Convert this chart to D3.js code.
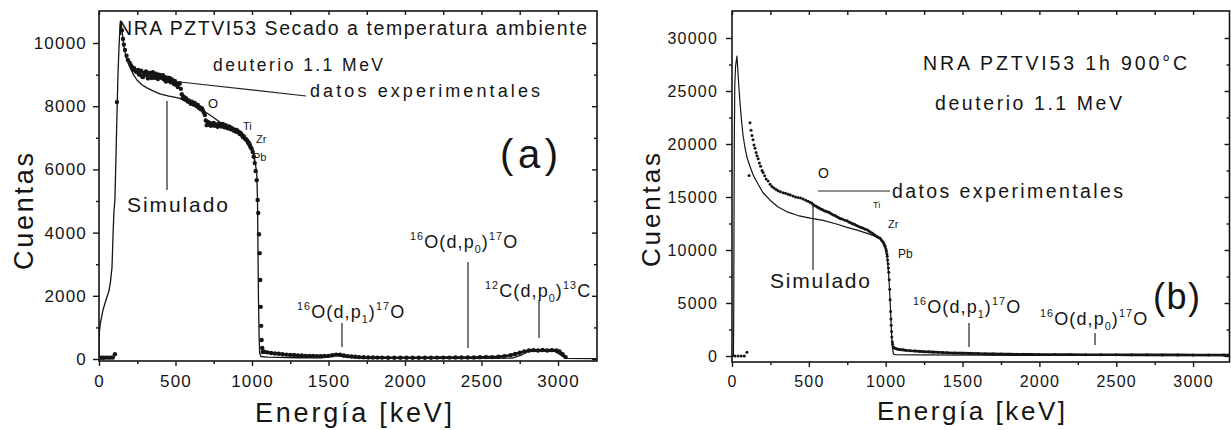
<!DOCTYPE html>
<html>
<head>
<meta charset="utf-8">
<script src="https://cdn.jsdelivr.net/npm/d3@7"></script>
<style>
  body { margin: 0; background: #fff; }
  svg { display: block; }
  text { font-family: "Liberation Sans", Arial, sans-serif; fill: #151515; }
</style>
</head>
<body>
<svg id="chart" width="1231" height="430"></svg>
<script>
// ---------- tick values ----------
const xTicks = [0, 500, 1000, 1500, 2000, 2500, 3000];
const xMinorTicks = [250, 750, 1250, 1750, 2250, 2750];
const yTicksA = [0, 2000, 4000, 6000, 8000, 10000];
const yMinorTicksA = [1000, 3000, 5000, 7000, 9000];
const yTicksB = [0, 5000, 10000, 15000, 20000, 25000, 30000];
const yMinorTicksB = [2500, 7500, 12500, 17500, 22500, 27500];

// ---------- (a) secado a temperatura ambiente: simulated spectrum [keV, counts] ----------
const simA = [
  [0,-60],[1,500],[3,900],[10,1150],[26,1550],[40,1780],[52,1960],[65,2150],[75,2450],[85,2900],
  [92,3980],[98,4700],[104,5030],[110,6200],[117,7660],[124,9000],[130,9780],[137,10500],[143,10700],
  [150,10400],[163,9870],[180,9500],[202,9240],[225,9000],[248,8830],[280,8680],[313,8580],[360,8470],
  [398,8390],[450,8330],[500,8280],[528,8250],[580,8120],[620,8020],[659,7920],[700,7800],[744,7660],
  [800,7460],[874,7250],[920,7120],[965,6990],[990,6850],[1005,6610],[1020,6250],[1031,5890],[1036,5030],
  [1039,3500],[1042,2000],[1046,800],[1050,200],[1058,80],[1100,60],[1300,40],[1450,40],[1520,80],
  [1560,110],[1600,70],[1700,30],[2000,20],[2400,20],[2700,30],[2760,120],[2800,230],[2850,260],
  [2900,250],[2980,240],[3020,120],[3050,20],[3250,10]
];

// ---------- (a) experimental spectrum [keV, counts] ----------
const expA = [
  [0,40],[15,40],[30,40],[45,45],[60,45],[75,45],[90,50],[104,150],
  [117,8130],[150,10400],[157,10130],[163,9950],[170,9780],[180,9600],[189,9460],[200,9380],[208,9300],
  [215,9240],[222,9150],[230,9200],[240,9100],[248,9080],[256,9150],[262,9000],[267,9050],[275,9120],
  [282,8950],[287,8920],[295,9060],[300,9000],[307,9100],[313,8990],[320,8880],[327,9050],[333,9050],
  [340,8950],[346,8890],[352,9080],[360,8980],[366,8900],[372,9030],[378,8920],[385,8860],[391,9000],
  [398,8990],[404,8920],[411,8890],[418,8980],[424,8850],[431,8920],[437,8780],[443,8830],[450,8900],
  [457,8800],[463,8890],[470,8760],[476,8850],[483,8770],[490,8700],[496,8800],[503,8680],[509,8730],
  [515,8610],[522,8700],[528,8730],[535,8550],[541,8380],[548,8260],[554,8300],[561,8220],[568,8250],
  [574,8200],[581,8150],[587,8180],[594,8130],[600,8080],[607,8140],[613,8100],[620,8050],[626,8100],
  [633,8030],[640,8000],[646,8040],[652,7950],[659,7970],[665,7900],[672,7940],[678,7880],[685,7800],
  [692,7720],[698,7550],[704,7400],[711,7500],[718,7420],[724,7470],[731,7380],[737,7450],[744,7400],
  [750,7470],[757,7380],[763,7420],[770,7400],[776,7350],[783,7450],[789,7380],[796,7420],[802,7360],
  [809,7440],[815,7380],[822,7330],[828,7400],[835,7340],[841,7300],[848,7360],[854,7340],[861,7270],
  [867,7310],[874,7280],[880,7230],[887,7260],[893,7200],[900,7250],[906,7180],[913,7190],[920,7120],
  [926,7150],[933,7100],[939,7030],[946,7050],[952,6980],[959,6960],[965,6930],[972,6870],[978,6820],
  [985,6770],[991,6700],[998,6650],[1005,6550],[1011,6400],[1018,6200],[1024,5950],[1031,5660],
  [1037,5030],[1041,4620],[1046,3950],[1050,3350],[1054,2500],[1057,1650],[1060,1050],[1063,600],
  [1067,350],[1070,220],[1080,230],[1100,210],[1125,190],[1150,175],[1175,165],[1200,150],[1225,140],
  [1250,130],[1275,125],[1300,115],[1325,110],[1350,100],[1375,100],[1400,95],[1425,90],[1450,90],
  [1475,95],[1500,100],[1525,120],[1550,140],[1575,135],[1600,110],[1625,90],[1650,80],[1675,70],
  [1700,60],[1730,55],[1760,50],[1790,50],[1820,45],[1850,45],[1890,40],[1930,40],[1970,40],[2010,40],
  [2050,40],[2090,40],[2130,40],[2170,40],[2210,45],[2250,45],[2290,45],[2330,50],[2370,50],[2410,50],
  [2450,50],[2490,55],[2530,60],[2570,60],[2610,70],[2650,90],[2690,120],[2720,160],[2750,200],
  [2780,240],[2810,270],[2840,280],[2870,270],[2900,285],[2930,270],[2960,280],[2990,270],[3010,240],
  [3030,150],[3050,60]
];

// ---------- (b) 1h 900°C: simulated spectrum [keV, counts] ----------
const simB = [
  [0,0],[9,0],[11,3000],[13,12000],[15,20000],[18,25500],[23,27300],[32,28300],[38,27000],[45,25300],
  [52,23900],[62,22200],[72,20800],[85,19600],[98,18700],[117,17900],[137,17100],[170,16200],[202,15400],
  [248,14700],[300,14050],[358,13600],[430,13250],[508,13000],[593,12790],[680,12450],[749,12140],
  [820,11850],[879,11570],[930,11300],[964,11050],[985,10700],[1000,10100],[1010,9200],[1018,8000],
  [1025,6300],[1031,4500],[1037,2500],[1043,900],[1050,200],[1060,120],[1200,100],[1600,80],[2000,60],
  [2600,50],[3240,40]
];

// ---------- (b) experimental spectrum [keV, counts] ----------
const expB = [
  [0,0],[20,0],[40,0],[60,0],[80,0],[97,350],[111,17030],
  [117,22000],[124,21300],[130,20800],[137,20400],[143,19900],[150,19600],[157,19200],[163,18900],
  [170,18600],[178,18200],[186,17900],[195,17500],[202,17300],[212,17000],[222,16700],[235,16500],
  [248,16200],[260,16000],[273,15850],[287,15700],[300,15600],[315,15500],[332,15400],[348,15350],
  [365,15250],[380,15200],[397,15100],[413,15000],[430,14950],[446,14900],[463,14800],[480,14700],
  [495,14600],[508,14500],[520,14400],[528,14300],[535,14200],[545,14150],[554,14050],[562,14000],
  [570,13950],[580,13850],[590,13800],[600,13700],[610,13650],[620,13600],[630,13550],[638,13500],
  [648,13400],[660,13300],[670,13250],[680,13150],[690,13100],[700,13000],[710,12950],[720,12900],
  [735,12800],[749,12750],[760,12650],[770,12600],[780,12500],[790,12450],[800,12400],[810,12300],
  [822,12250],[835,12150],[845,12100],[855,12050],[867,11950],[879,11900],[890,11800],[900,11700],
  [910,11600],[920,11500],[930,11400],[940,11300],[952,11200],[964,11100],[972,10950],[980,10800],
  [985,10700],[990,10550],[994,10400],[997,10300],[1001,10100],[1005,9900],[1008,9650],[1010,9400],
  [1013,9050],[1016,8700],[1018,8300],[1020,7900],[1023,7200],[1026,6300],[1029,5300],[1032,4200],
  [1034,3500],[1036,2900],[1038,2300],[1040,1800],[1043,1350],[1045,1100],[1049,850],[1060,720],
  [1075,660],[1090,620],[1110,580],[1130,540],[1160,500],[1190,470],[1220,440],[1250,410],[1280,390],
  [1310,370],[1340,350],[1370,330],[1400,310],[1450,290],[1500,270],[1550,250],[1600,230],[1650,215],
  [1700,200],[1750,190],[1800,175],[1850,165],[1900,155],[1950,150],[2000,140],[2100,135],[2200,130],
  [2300,125],[2400,120],[2500,115],[2600,110],[2700,110],[2800,105],[2900,105],[3000,100],[3100,100],
  [3200,100],[3240,100]
];

// reaction peak energies marked with leader lines [keV]
const peaksA = [1588, 2412, 2876];
const peaksB = [1542, 2362];

const svg = d3.select("#chart");
const ink = "#151515";

function reaction(g, x, y, parts, fs) {
  const t = g.append("text").attr("x", x).attr("y", y)
    .attr("font-size", fs).attr("letter-spacing", 1.1);
  let off = 0;
  parts.forEach(([s, k]) => {
    const target = k === "sup" ? -fs * 0.42 : k === "sub" ? fs * 0.28 : 0;
    t.append("tspan").attr("dy", target - off)
      .attr("font-size", k ? fs * 0.6 : fs).text(s);
    off = target;
  });
  return t;
}

function label(g, x, y, s, fs, len) {
  const t = g.append("text").attr("x", x).attr("y", y).attr("font-size", fs).text(s);
  if (len) t.attr("textLength", len).attr("lengthAdjust", "spacing");
  return t;
}

function leader(g, x1, y1, x2, y2) {
  g.append("line").attr("x1", x1).attr("y1", y1).attr("x2", x2).attr("y2", y2)
    .attr("stroke", "#222").attr("stroke-width", 1.2);
}

function panel(o) {
  const g = svg.append("g");
  const x = d3.scaleLinear().domain(o.xDomain).range(o.xRange);
  const y = d3.scaleLinear().domain(o.yDomain).range(o.yRange);
  const [x0, x1] = o.xRange, [yb, yt] = o.yRange;

  const styleAxis = (sel, fs) => {
    sel.attr("font-family", null).attr("font-size", null);
    sel.select(".domain").remove();
    sel.selectAll(".tick line").attr("stroke", ink).attr("stroke-width", 1.4);
    sel.selectAll("text").attr("font-size", fs).attr("letter-spacing", 1.2).attr("fill", ink);
  };

  // bottom and left: labelled, outward ticks
  g.append("g").attr("transform", `translate(0,${yb})`)
    .call(d3.axisBottom(x).tickValues(xTicks).tickSize(5).tickPadding(9).tickFormat(d3.format("d")))
    .call(s => styleAxis(s, o.tickFs));
  g.append("g").attr("transform", `translate(0,${yb})`)
    .call(d3.axisBottom(x).tickValues(xMinorTicks).tickSize(3).tickFormat(""))
    .call(s => styleAxis(s, o.tickFs));
  g.append("g").attr("transform", `translate(${x0},0)`)
    .call(d3.axisLeft(y).tickValues(o.yTicks).tickSize(6).tickPadding(o.yPad).tickFormat(d3.format("d")))
    .call(s => styleAxis(s, o.tickFs));
  g.append("g").attr("transform", `translate(${x0},0)`)
    .call(d3.axisLeft(y).tickValues(o.yMinor).tickSize(3).tickFormat(""))
    .call(s => styleAxis(s, o.tickFs));

  // top and right: mirrored, inward ticks
  g.append("g").attr("transform", `translate(0,${yt})`)
    .call(d3.axisTop(x).tickValues(xTicks.concat(xMinorTicks)).tickSize(-4).tickFormat(""))
    .call(s => styleAxis(s, o.tickFs));
  g.append("g").attr("transform", `translate(${x1},0)`)
    .call(d3.axisRight(y).tickValues(o.yTicks).tickSize(-5).tickFormat(""))
    .call(s => styleAxis(s, o.tickFs));
  g.append("g").attr("transform", `translate(${x1},0)`)
    .call(d3.axisRight(y).tickValues(o.yMinor).tickSize(-3).tickFormat(""))
    .call(s => styleAxis(s, o.tickFs));

  // clip the spectra to the frame
  const clipId = "clip" + o.id;
  g.append("clipPath").attr("id", clipId).append("rect")
    .attr("x", x0).attr("y", yt).attr("width", x1 - x0).attr("height", yb - yt);
  const plot = g.append("g").attr("clip-path", `url(#${clipId})`);

  const line = d3.line().x(d => x(d[0])).y(d => y(d[1]));

  // experimental: dots, with the low-count tail also traced as a band
  plot.append("path").datum(o.exp.filter(d => d[0] >= o.tailFrom))
    .attr("d", line).attr("fill", "none").attr("stroke", ink)
    .attr("stroke-width", o.tailWidth).attr("stroke-linejoin", "round");
  plot.append("g").selectAll("circle").data(o.exp).join("circle")
    .attr("cx", d => x(d[0])).attr("cy", d => y(d[1])).attr("r", o.dotR).attr("fill", ink);

  // simulated spectrum
  plot.append("path").datum(o.sim).attr("d", line).attr("fill", "none")
    .attr("stroke", ink).attr("stroke-width", o.simWidth).attr("stroke-linejoin", "round");

  // frame
  g.append("rect").attr("x", x0).attr("y", yt).attr("width", x1 - x0).attr("height", yb - yt)
    .attr("fill", "none").attr("stroke", ink).attr("stroke-width", 1.6);

  return { g, x, y };
}

// ================= panel (a) =================
const A = panel({
  id: "A", xDomain: [0, 3255], xRange: [99, 597], yDomain: [-63, 11013], yRange: [361, 11],
  yTicks: yTicksA, yMinor: yMinorTicksA, yPad: 6, tickFs: 17,
  sim: simA, exp: expA, tailFrom: 1070, tailWidth: 2.6, dotR: 2.2, simWidth: 1.3
});
{
  const g = A.g;
  label(g, 118, 35, "NRA PZTVI53 Secado a temperatura ambiente", 19.5, 469);
  label(g, 213, 71, "deuterio 1.1 MeV", 17.5, 170);
  label(g, 310, 97, "datos experimentales", 18, 230);
  leader(g, 180, 82, 306, 96);
  label(g, 208, 108, "O", 13);
  label(g, 243, 130, "Ti", 11);
  label(g, 256, 143, "Zr", 11);
  label(g, 253, 161, "Pb", 11);
  label(g, 127, 212, "Simulado", 21, 101);
  leader(g, 167, 101, 167, 190);
  label(g, 500, 168, "(a)", 40, 58);

  reaction(g, 297, 318, [["16","sup"],["O"],["(d,p"],["1","sub"],[")"],["17","sup"],["O"]], 18);
  leader(g, A.x(peaksA[0]), 323, A.x(peaksA[0]), 347);
  reaction(g, 410, 248, [["16","sup"],["O"],["(d,p"],["0","sub"],[")"],["17","sup"],["O"]], 18);
  leader(g, A.x(peaksA[1]), 262, A.x(peaksA[1]), 348);
  reaction(g, 485, 297, [["12","sup"],["C"],["(d,p"],["0","sub"],[")"],["13","sup"],["C"]], 18);
  leader(g, A.x(peaksA[2]), 300, A.x(peaksA[2]), 338);

  label(g, 0, 0, "Cuentas", 27, 117).attr("transform", "translate(33,270) rotate(-90)");
  label(g, 255, 422, "Energía [keV]", 27, 197);
}

// ================= panel (b) =================
const B = panel({
  id: "B", xDomain: [0, 3237], xRange: [732, 1229.5], yDomain: [-566, 32547], yRange: [362, 11],
  yTicks: yTicksB, yMinor: yMinorTicksB, yPad: 8, tickFs: 16,
  sim: simB, exp: expB, tailFrom: 1049, tailWidth: 2.6, dotR: 1.5, simWidth: 1.2
});
{
  const g = B.g;
  label(g, 923, 70, "NRA PZTVI53 1h 900°C", 19.5, 264);
  label(g, 935, 110, "deuterio 1.1 MeV", 19.5, 187);
  label(g, 892, 198, "datos experimentales", 19.5, 231);
  leader(g, 818, 191, 890, 191);
  label(g, 818, 178, "O", 14);
  label(g, 873, 208, "Ti", 9);
  label(g, 888, 228, "Zr", 11);
  label(g, 898, 258, "Pb", 12);
  label(g, 770, 288, "Simulado", 21, 100);
  leader(g, 813, 204, 813, 270);
  label(g, 1153, 309, "(b)", 36, 47);

  reaction(g, 913, 313, [["16","sup"],["O"],["(d,p"],["1","sub"],[")"],["17","sup"],["O"]], 18);
  leader(g, B.x(peaksB[0]), 323, B.x(peaksB[0]), 347);
  reaction(g, 1040, 325, [["16","sup"],["O"],["(d,p"],["0","sub"],[")"],["17","sup"],["O"]], 18);
  leader(g, B.x(peaksB[1]), 333, B.x(peaksB[1]), 345);

  label(g, 0, 0, "Cuentas", 26, 114).attr("transform", "translate(660,267) rotate(-90)");
  label(g, 877, 420, "Energía [keV]", 26, 188);
}
</script>
</body>
</html>
